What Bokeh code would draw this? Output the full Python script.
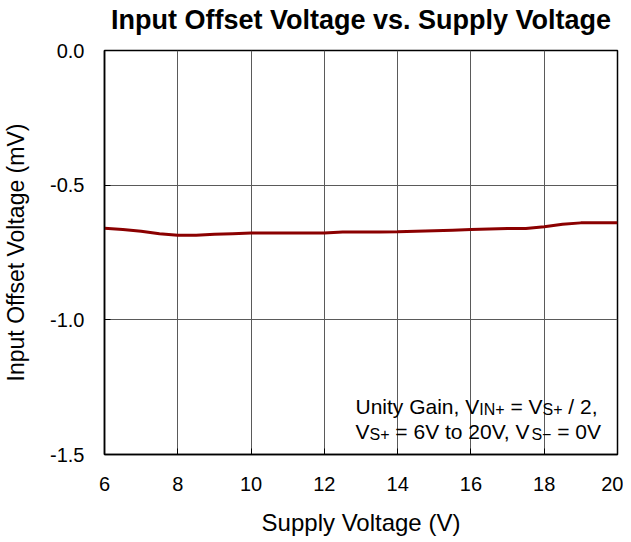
from bokeh.plotting import figure
from bokeh.models import Range1d, FixedTicker, PrintfTickFormatter, Label, Title
from bokeh.embed import file_html
from bokeh.resources import INLINE

# ---- data ----
supply_v = [6, 6.5, 7, 7.5, 8, 8.5, 9, 9.5, 10, 10.5, 11, 11.5, 12, 12.5, 13, 13.5,
            14, 14.5, 15, 15.5, 16, 16.5, 17, 17.5, 18, 18.5, 19, 19.5, 20]
offset_mv = [-0.660, -0.665, -0.671, -0.680, -0.686, -0.686, -0.682, -0.680, -0.678,
             -0.678, -0.678, -0.678, -0.678, -0.674, -0.674, -0.674, -0.673, -0.671,
             -0.669, -0.667, -0.665, -0.663, -0.661, -0.661, -0.654, -0.645, -0.640,
             -0.640, -0.640]
x_ticks = [6, 8, 10, 12, 14, 16, 18, 20]
y_ticks = [-1.5, -1.0, -0.5, 0.0]
title_text = "Input Offset Voltage vs. Supply Voltage"

FONT = "Liberation Sans"

p = figure(width=623, height=538, output_backend="svg", toolbar_location=None,
           x_range=Range1d(6, 20), y_range=Range1d(-1.5, 0),
           min_border_left=104, min_border_right=6, min_border_top=50, min_border_bottom=84,
           title=title_text)
p.title.text_font = FONT
p.title.text_font_size = "27px"
p.title.text_font_style = "bold"
p.title.align = "center"
p.title.standoff = 0
p.title.text_color = "black"
# blank spacer between the title and the frame
p.add_layout(Title(text=" ", text_font_size="12px", standoff=0), "above")

p.outline_line_color = "black"
p.outline_line_width = 1.5
p.background_fill_color = "white"
p.border_fill_color = "white"

for ax in (p.xaxis[0], p.yaxis[0]):
    ax.axis_line_color = "black"
    ax.axis_line_width = 1.5
    ax.major_tick_in = 6
    ax.major_tick_out = 0
    ax.minor_tick_in = 0
    ax.minor_tick_out = 0
    ax.major_tick_line_color = "black"
    ax.major_label_text_font = FONT
    ax.major_label_text_font_size = "20px"
    ax.major_label_text_color = "black"
    ax.axis_label_text_font = FONT
    ax.axis_label_text_font_style = "normal"
    ax.axis_label_text_color = "black"

p.xaxis.axis_label_text_font_size = "24px"
p.yaxis.axis_label_text_font_size = "23px"
p.xaxis.ticker = FixedTicker(ticks=x_ticks)
p.yaxis.ticker = FixedTicker(ticks=y_ticks)
p.yaxis.formatter = PrintfTickFormatter(format="%.1f")
p.xaxis.axis_label = "Supply Voltage (V)"
p.yaxis.axis_label = "Input Offset Voltage (mV)"
p.xaxis.major_label_standoff = 22
p.yaxis.major_label_standoff = 20
p.xaxis.axis_label_standoff = 15
p.yaxis.axis_label_standoff = 18

p.xgrid.grid_line_color = "#5a5a5a"
p.ygrid.grid_line_color = "#5a5a5a"
p.xgrid.grid_line_width = 1
p.ygrid.grid_line_width = 1

p.line(supply_v, offset_mv, line_color="#8b0000", line_width=3)

# ---- annotation with subscripts ----
W = {"U": 722, "n": 556, "i": 222, "t": 278, "y": 500, " ": 278, "G": 778, "a": 556,
     ",": 278, "V": 667, "I": 278, "N": 722, "+": 584, "=": 584, "S": 667, "/": 278,
     "2": 556, "6": 556, "o": 556, "0": 556, "\u2212": 584}

def tw(s, size):
    return sum(W.get(c, 556) for c in s) * size / 1000.0

MAIN, SUB = 21, 16
line1 = [("Unity Gain, V", False), ("IN+", True), (" = V", False), ("S+", True), (" / 2,", False)]
line2 = [("V", False), ("S+", True), (" = 6V to 20V, V", False), ("S\u2212", True), (" = 0V", False)]

anchor_x, anchor_y = 12.85, -1.322
for li, pieces in enumerate([line1, line2]):
    off = 0.0
    for txt, sub in pieces:
        size = SUB if sub else MAIN
        lead = len(txt) - len(txt.lstrip(" "))
        off += tw(" " * lead, size)
        t = txt.strip(" ")
        p.add_layout(Label(x=anchor_x, y=anchor_y, x_offset=off,
                           y_offset=-25 * li - (3 if sub else 0),
                           text=t, text_font=FONT, text_font_size=f"{size}px",
                           text_color="black", text_baseline="alphabetic", text_align="left"))
        off += tw(t, size)

open("out.html", "w").write(file_html(p, INLINE))
